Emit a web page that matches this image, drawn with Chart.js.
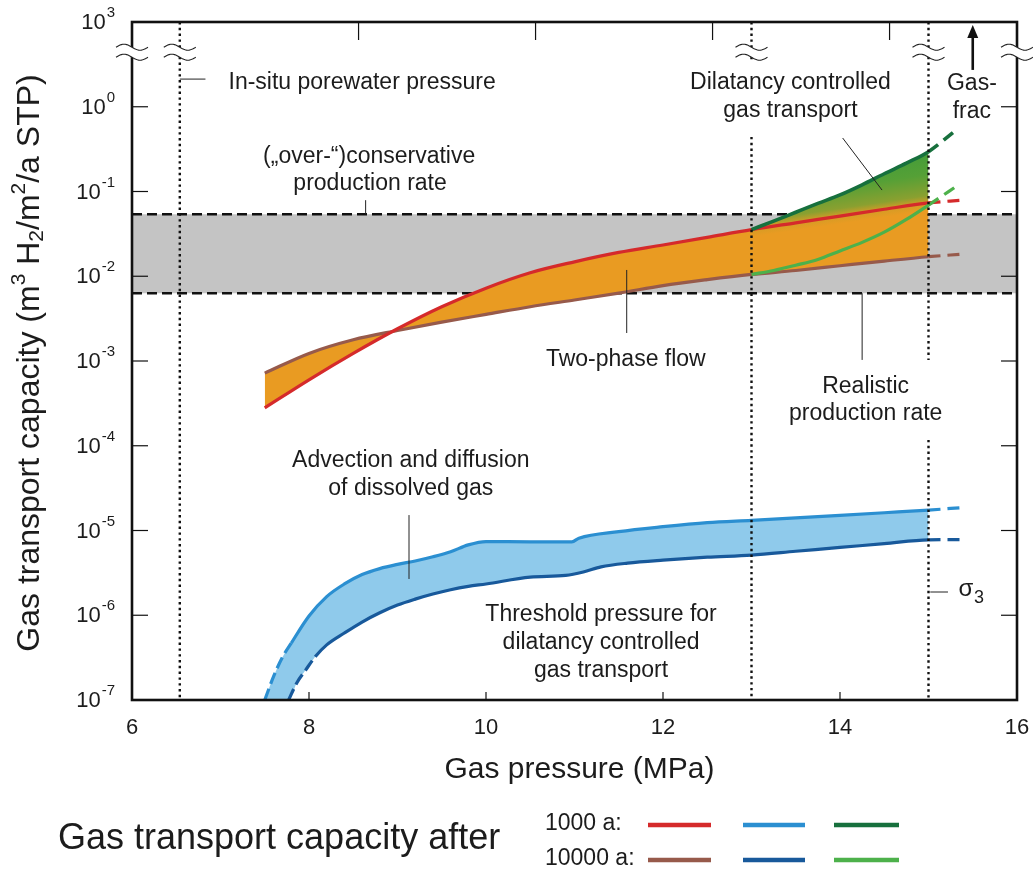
<!DOCTYPE html>
<html>
<head>
<meta charset="utf-8">
<title>Gas transport capacity</title>
<script src="https://cdn.jsdelivr.net/npm/chart.js@4.4.1/dist/chart.umd.min.js"></script>
<style>
html,body{margin:0;padding:0;background:#ffffff;}
#box{position:relative;width:1033px;height:872px;}
canvas{display:block;}
</style>
</head>
<body>
<div id="box"><canvas id="chart" width="1033" height="872"></canvas></div>
<script>
// ---------------- data ----------------
const xTickValues = [6, 8, 10, 12, 14, 16];
const yTickValues = [1e-7, 1e-6, 1e-5, 1e-4, 1e-3, 1e-2, 1e-1, 1e0, 1e1];
const yTickExponents = ['-7', '-6', '-5', '-4', '-3', '-2', '-1', '0', '3'];
const topTickPressures = [8.56, 10.56, 12.56, 14.56];

const porewaterPressure = 6.54;   // MPa, in-situ porewater pressure
const thresholdPressure = 13.0;   // MPa, dilatancy threshold
const sigma3Pressure = 15.0;      // MPa, minimum principal stress

const productionRateHigh = 0.054; // conservative production rate
const productionRateLow = 0.0063; // realistic production rate

// two-phase flow (red = 1000 a, brown = 10000 a)
const twoPhasePressure = [7.5, 8.0, 8.5, 9.0, 9.5, 10.0, 10.5, 11.0, 11.5, 12.0, 12.5, 13.0, 13.5, 14.0, 14.5, 15.0, 15.37];
const twoPhase1000a = [2.8e-4, 6.0e-4, 1.23e-3, 2.40e-3, 4.37e-3, 7.24e-3, 1.10e-2, 1.48e-2, 1.91e-2, 2.34e-2, 2.88e-2, 3.55e-2, 4.27e-2, 5.13e-2, 6.17e-2, 7.33e-2, 7.9e-2];
const twoPhase10000a = [7.2e-4, 1.23e-3, 1.78e-3, 2.29e-3, 2.88e-3, 3.55e-3, 4.37e-3, 5.25e-3, 6.31e-3, 7.76e-3, 9.12e-3, 1.05e-2, 1.17e-2, 1.33e-2, 1.51e-2, 1.70e-2, 1.82e-2];

// dilatancy controlled gas transport (dark green = 1000 a, light green = 10000 a)
const dilatancy1000aPressure = [13.0, 13.25, 13.5, 13.75, 14.0, 14.25, 14.5, 14.75, 15.0, 15.32];
const dilatancy1000a = [3.55e-2, 4.47e-2, 5.69e-2, 7.24e-2, 9.12e-2, 0.120, 0.162, 0.216, 0.295, 0.54];
const dilatancy10000aPressure = [13.0, 13.25, 13.5, 13.75, 14.0, 14.25, 14.5, 14.75, 15.0, 15.34];
const dilatancy10000a = [1.05e-2, 1.17e-2, 1.35e-2, 1.58e-2, 1.99e-2, 2.51e-2, 3.31e-2, 4.68e-2, 6.92e-2, 0.120];

// advection and diffusion of dissolved gas (light blue = 1000 a, dark blue = 10000 a)
const dissolved1000aPressure = [7.5, 7.6, 7.7, 7.8, 8.0, 8.2, 8.4, 8.6, 8.8, 9.0, 9.2, 9.4, 9.6, 9.8, 10.0, 10.5, 10.97, 11.05, 11.5, 12.0, 12.5, 13.0, 13.5, 14.0, 14.5, 15.0, 15.37];
const dissolved1000a = [1.0e-7, 1.9e-7, 3.2e-7, 4.7e-7, 9.8e-7, 1.66e-6, 2.34e-6, 3.02e-6, 3.55e-6, 3.98e-6, 4.37e-6, 4.90e-6, 5.62e-6, 6.76e-6, 7.4e-6, 7.35e-6, 7.35e-6, 8.1e-6, 9.7e-6, 1.11e-5, 1.24e-5, 1.32e-5, 1.41e-5, 1.51e-5, 1.62e-5, 1.74e-5, 1.86e-5];
const dissolved1000aDashedUntil = 7.8;
const dissolved10000aPressure = [7.77, 7.86, 7.96, 8.07, 8.2, 8.4, 8.6, 8.8, 9.0, 9.2, 9.4, 9.6, 9.8, 10.0, 10.5, 10.9, 11.1, 11.3, 11.6, 12.0, 12.5, 13.0, 13.5, 14.0, 14.5, 15.0, 15.37];
const dissolved10000a = [1.0e-7, 1.58e-7, 2.24e-7, 3.24e-7, 4.47e-7, 6.17e-7, 8.32e-7, 1.07e-6, 1.32e-6, 1.55e-6, 1.78e-6, 2.00e-6, 2.19e-6, 2.34e-6, 2.82e-6, 2.95e-6, 3.24e-6, 3.72e-6, 4.12e-6, 4.47e-6, 4.84e-6, 5.13e-6, 5.69e-6, 6.31e-6, 7.00e-6, 7.76e-6, 7.8e-6];
const dissolved10000aDashedUntil = 8.07;

// ---------------- styles ----------------
const FONT = "'Liberation Sans', Arial, Helvetica, sans-serif";
const INK = '#1c1c1c';
const C = {
  red: '#d52a2b', brown: '#975a4b', blue1: '#2b8fd1', blue2: '#18599b',
  green1: '#17703d', green2: '#4db14b', orange: '#e99b22', blueFill: '#8fcaeb', gray: '#c4c4c4'
};

function pts(px, vals, maxX) {
  const out = [];
  for (let i = 0; i < px.length; i++) {
    if (maxX === undefined || px[i] <= maxX + 1e-9) out.push({ x: px[i], y: vals[i] });
  }
  return out;
}
function dashStyle(dashedUntil) {
  return c => {
    if (c.p0.parsed.x >= sigma3Pressure - 1e-9) return [12, 7];
    if (dashedUntil !== undefined && c.p1.parsed.x <= dashedUntil + 1e-9) return [12, 5];
    return undefined;
  };
}
function curve(label, data, color, width, order, dashedUntil) {
  return {
    label, data, borderColor: color, borderWidth: width, pointRadius: 0, fill: false,
    order, cubicInterpolationMode: 'monotone', borderCapStyle: 'butt',
    segment: { borderDash: dashStyle(dashedUntil) }
  };
}
function area(data, target, bg, order) {
  return {
    data, borderWidth: 0, borderColor: 'rgba(0,0,0,0)', pointRadius: 0,
    fill: target === null ? false : { target: target }, backgroundColor: bg, order,
    cubicInterpolationMode: 'monotone'
  };
}
function greenGradient(c) {
  const ch = c.chart;
  if (!ch.chartArea || !ch.scales.x || !ch.scales.y) return 'rgba(110,160,50,0.9)';
  const x = ch.scales.x, y = ch.scales.y;
  const g = ch.ctx.createLinearGradient(x.getPixelForValue(14.0), y.getPixelForValue(0.3), x.getPixelForValue(14.18), y.getPixelForValue(0.016));
  g.addColorStop(0, '#3a9a3b');
  g.addColorStop(0.33, '#55a036');
  g.addColorStop(0.52, '#8aa030');
  g.addColorStop(0.59, '#d49c25');
  g.addColorStop(0.66, '#e99b22');
  g.addColorStop(1, '#e99b22');
  return g;
}

const blueFillBottom = [{ x: dissolved1000aPressure[0], y: dissolved1000a[0] }].concat(pts(dissolved10000aPressure, dissolved10000a, sigma3Pressure));

const datasets = [
  // 0,1 production-rate band
  { data: [{ x: 6, y: productionRateHigh }, { x: 16, y: productionRateHigh }], borderColor: '#111', borderWidth: 2.4, borderDash: [10, 5], pointRadius: 0, fill: { target: 1 }, backgroundColor: C.gray, order: 100 },
  { data: [{ x: 6, y: productionRateLow }, { x: 16, y: productionRateLow }], borderColor: '#111', borderWidth: 2.4, borderDash: [10, 5], pointRadius: 0, fill: false, order: 99 },
  // 2,3 two-phase flow area
  area(pts(twoPhasePressure, twoPhase1000a, sigma3Pressure), 3, C.orange, 60),
  area(pts(twoPhasePressure, twoPhase10000a, sigma3Pressure), null, 'rgba(0,0,0,0)', 61),
  // 4,5 dilatancy area
  area(pts(dilatancy1000aPressure, dilatancy1000a, sigma3Pressure), 5, greenGradient, 55),
  area(pts(dilatancy10000aPressure, dilatancy10000a, sigma3Pressure), null, 'rgba(0,0,0,0)', 56),
  // 6,7 dissolved gas area
  area(pts(dissolved1000aPressure, dissolved1000a, sigma3Pressure), 7, C.blueFill, 50),
  area(blueFillBottom, null, 'rgba(0,0,0,0)', 51),
  // curves
  curve('Two-phase flow 10000 a', pts(twoPhasePressure, twoPhase10000a), C.brown, 3.2, 20),
  curve('Two-phase flow 1000 a', pts(twoPhasePressure, twoPhase1000a), C.red, 3.2, 19),
  curve('Dilatancy 10000 a', pts(dilatancy10000aPressure, dilatancy10000a), C.green2, 3.2, 18),
  curve('Dilatancy 1000 a', pts(dilatancy1000aPressure, dilatancy1000a), C.green1, 3.6, 17),
  curve('Dissolved gas 10000 a', pts(dissolved10000aPressure, dissolved10000a), C.blue2, 3.2, 16, dissolved10000aDashedUntil),
  curve('Dissolved gas 1000 a', pts(dissolved1000aPressure, dissolved1000a), C.blue1, 3.2, 15, dissolved1000aDashedUntil)
];

// ---------------- annotations (positions in data units) ----------------
const notes = [
  { t: 'In-situ porewater pressure', x: 8.60, y: 1.9 },
  { t: '(\u201Eover-\u201C)conservative', x: 8.68, y: 0.255 },
  { t: 'production rate', x: 8.69, y: 0.1225 },
  { t: 'Dilatancy controlled', x: 13.44, y: 1.9 },
  { t: 'gas transport', x: 13.44, y: 0.89 },
  { t: 'Gas-', x: 15.49, y: 1.85 },
  { t: 'frac', x: 15.49, y: 0.867 },
  { t: 'Two-phase flow', x: 11.58, y: 1.03e-3 },
  { t: 'Realistic', x: 14.29, y: 4.93e-4 },
  { t: 'production rate', x: 14.29, y: 2.37e-4 },
  { t: 'Advection and diffusion', x: 9.15, y: 6.6e-5 },
  { t: 'of dissolved gas', x: 9.15, y: 3.09e-5 },
  { t: 'Threshold pressure for', x: 11.30, y: 1.03e-6 },
  { t: 'dilatancy controlled', x: 11.30, y: 4.7e-7 },
  { t: 'gas transport', x: 11.30, y: 2.2e-7 }
];
const leaders = [
  [6.54, 2.12, 6.83, 2.12],
  [8.64, 0.079, 8.64, productionRateHigh],
  [14.03, 0.428, 14.475, 0.104],
  [11.59, 0.01186, 11.59, 2.14e-3],
  [14.25, productionRateLow, 14.25, 1.03e-3],
  [9.13, 1.52e-5, 9.13, 2.68e-6],
  [15.02, 1.88e-6, 15.22, 1.88e-6]
];
const markers = [
  { x: porewaterPressure, gaps: [] },
  { x: thresholdPressure, gaps: [[3.37, 0.44]] },
  { x: sigma3Pressure, gaps: [[1.03e-3, 1.17e-4]] }
];
const breakValue = 4.4;

function text(ctx, s, x, y, size, align) {
  ctx.font = size + 'px ' + FONT;
  ctx.textAlign = align || 'center';
  ctx.textBaseline = 'middle';
  ctx.fillStyle = INK;
  ctx.fillText(s, x, y);
}
function seg(ctx, x1, y1, x2, y2) {
  ctx.beginPath(); ctx.moveTo(x1, y1); ctx.lineTo(x2, y2); ctx.stroke();
}
function drawBreak(ctx, cx, cy) {
  const w = 32, amp = 3, gap = 10, n = 24;
  const wave = (off) => { const a = []; for (let i = 0; i <= n; i++) { const t = i / n; a.push([cx - w / 2 + w * t, cy + off - amp * Math.sin(2 * Math.PI * t)]); } return a; };
  const top = wave(-gap / 2), bot = wave(gap / 2);
  ctx.beginPath();
  top.forEach((p, i) => i ? ctx.lineTo(p[0], p[1]) : ctx.moveTo(p[0], p[1]));
  for (let i = bot.length - 1; i >= 0; i--) ctx.lineTo(bot[i][0], bot[i][1]);
  ctx.closePath(); ctx.fillStyle = '#ffffff'; ctx.fill();
  ctx.strokeStyle = '#222'; ctx.lineWidth = 1.1; ctx.setLineDash([]);
  [top, bot].forEach(wv => { ctx.beginPath(); wv.forEach((p, i) => i ? ctx.lineTo(p[0], p[1]) : ctx.moveTo(p[0], p[1])); ctx.stroke(); });
}

const decor = {
  id: 'decor',
  afterDatasetsDraw(chart) {
    const ctx = chart.ctx, ca = chart.chartArea, xs = chart.scales.x, ys = chart.scales.y;
    const X = v => xs.getPixelForValue(v), Y = v => ys.getPixelForValue(v);
    ctx.save();
    // vertical dotted reference lines
    ctx.strokeStyle = '#111'; ctx.lineWidth = 2.4; ctx.setLineDash([2.4, 3.4]); ctx.lineCap = 'butt';
    markers.forEach(m => {
      const px = X(m.x);
      let from = ca.top;
      const cuts = m.gaps.map(g => [Y(g[0]), Y(g[1])]).sort((a, b) => a[0] - b[0]);
      cuts.forEach(c => { seg(ctx, px, from, px, c[0]); from = c[1]; });
      seg(ctx, px, from, px, ca.bottom);
    });
    ctx.setLineDash([]);
    // frame
    ctx.strokeStyle = '#111'; ctx.lineWidth = 2.6;
    ctx.strokeRect(ca.left, ca.top, ca.right - ca.left, ca.bottom - ca.top);
    // inward ticks
    ctx.lineWidth = 1.2;
    yTickValues.forEach(v => {
      const py = Y(v);
      if (py <= ca.top + 2 || py >= ca.bottom - 2) return;
      seg(ctx, ca.left, py, ca.left + 16, py);
      seg(ctx, ca.right - 16, py, ca.right, py);
    });
    xTickValues.forEach(v => {
      const px = X(v);
      if (px <= ca.left + 2 || px >= ca.right - 2) return;
      seg(ctx, px, ca.bottom, px, ca.bottom - 8);
    });
    topTickPressures.forEach(v => { const px = X(v); seg(ctx, px, ca.top, px, ca.top + 18); });
    // axis breaks
    const by = Y(breakValue);
    [6, porewaterPressure, thresholdPressure, sigma3Pressure, 16].forEach(v => drawBreak(ctx, X(v), by));
    // y tick labels with superscript exponents
    yTickValues.forEach((v, i) => {
      const py = Y(v), right = ca.left - 17;
      ctx.font = '15px ' + FONT;
      const ew = ctx.measureText(yTickExponents[i]).width;
      text(ctx, yTickExponents[i], right, py - 9, 15, 'right');
      text(ctx, '10', right - ew - 1, py + 1, 22, 'right');
    });
    // y axis title with super/subscripts
    const parts = [['Gas transport capacity (m', 0], ['3', -1], [' H', 0], ['2', 1], ['/m', 0], ['2', -1], ['/a STP)', 0]];
    const big = 32, small = 21;
    let total = 0;
    parts.forEach(p => { ctx.font = (p[1] ? small : big) + 'px ' + FONT; total += ctx.measureText(p[0]).width; });
    ctx.save();
    ctx.translate(30, (ca.top + ca.bottom) / 2 + 2);
    ctx.rotate(-Math.PI / 2);
    let cx = -total / 2;
    parts.forEach(p => {
      const sz = p[1] ? small : big;
      ctx.font = sz + 'px ' + FONT; ctx.textAlign = 'left'; ctx.textBaseline = 'middle'; ctx.fillStyle = INK;
      const dy = p[1] === -1 ? -11 : (p[1] === 1 ? 7 : 0);
      ctx.fillText(p[0], cx, dy);
      cx += ctx.measureText(p[0]).width;
    });
    ctx.restore();
    // x axis title
    text(ctx, 'Gas pressure (MPa)', (ca.left + ca.right) / 2 + 5, ca.bottom + 70, 30);
    // annotations
    notes.forEach(n => text(ctx, n.t, X(n.x), Y(n.y), 23));
    ctx.strokeStyle = '#222'; ctx.lineWidth = 1;
    leaders.forEach(l => seg(ctx, X(l[0]), Y(l[1]), X(l[2]), Y(l[3])));
    // sigma 3
    text(ctx, '\u03C3', X(15.424), Y(2.0e-6), 24);
    text(ctx, '3', X(15.57), Y(1.58e-6), 18);
    // gas-frac arrow
    const ax = X(15.50), a0 = Y(2.72), a1 = Y(9.2);
    ctx.strokeStyle = '#111'; ctx.lineWidth = 2.6;
    seg(ctx, ax, a0, ax, a1 + 8);
    ctx.beginPath(); ctx.moveTo(ax, a1); ctx.lineTo(ax - 5.5, a1 + 13); ctx.lineTo(ax + 5.5, a1 + 13); ctx.closePath();
    ctx.fillStyle = '#111'; ctx.fill();
    // legend
    text(ctx, 'Gas transport capacity after', 58, 839, 36, 'left');
    text(ctx, '1000 a:', 545, 824, 23, 'left');
    text(ctx, '10000 a:', 545, 859, 23, 'left');
    const legendRows = [[C.red, C.blue1, C.green1], [C.brown, C.blue2, C.green2]];
    const legendX = [[648, 711], [743, 805], [834, 899]];
    ctx.lineWidth = 4.5; ctx.lineCap = 'butt';
    legendRows.forEach((row, r) => row.forEach((col, k) => {
      ctx.strokeStyle = col;
      seg(ctx, legendX[k][0], r ? 860 : 825, legendX[k][1], r ? 860 : 825);
    }));
    ctx.restore();
  }
};

new Chart(document.getElementById('chart'), {
  type: 'line',
  data: { datasets },
  options: {
    responsive: false,
    animation: false,
    devicePixelRatio: 1,
    layout: { padding: { top: 22, right: 16, left: 0, bottom: 0 } },
    plugins: { legend: { display: false }, tooltip: { enabled: false }, title: { display: false } },
    scales: {
      x: {
        type: 'linear', min: 6, max: 16,
        afterBuildTicks: s => { s.ticks = xTickValues.map(v => ({ value: v })); },
        afterFit: s => { s.height = 172; s.paddingLeft = 0; s.paddingRight = 0; },
        grid: { display: false, drawTicks: false },
        border: { display: false },
        ticks: { font: { size: 22, family: FONT }, color: INK, padding: 15, maxRotation: 0, autoSkip: false }
      },
      y: {
        type: 'logarithmic', min: 1e-7, max: 10,
        afterBuildTicks: s => { s.ticks = yTickValues.map(v => ({ value: v })); },
        afterFit: s => { s.width = 132; s.paddingTop = 0; s.paddingBottom = 0; },
        grid: { display: false, drawTicks: false },
        border: { display: false },
        ticks: { display: false }
      }
    }
  },
  plugins: [decor]
});
</script>
</body>
</html>
